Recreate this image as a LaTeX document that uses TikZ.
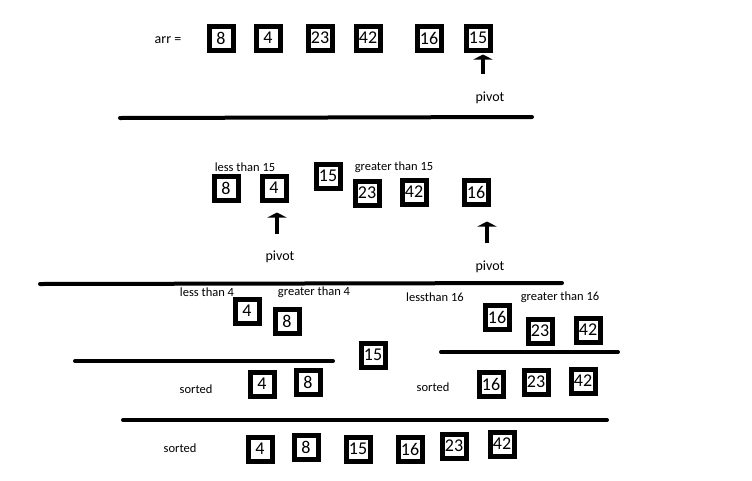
\documentclass[tikz,border=0pt]{standalone}
\usepackage{fontspec}
\setmainfont{Carlito}
\usetikzlibrary{arrows.meta,positioning}
\begin{document}
\begin{tikzpicture}[x=1pt, y=-1pt,
      num/.style={draw, line width=5pt, minimum size=24pt, inner sep=0pt, font=\fontsize{18}{18}\selectfont},
      lbl/.style={font=\fontsize{12.5}{12.5}\selectfont},
      cut/.style={line width=4pt, line cap=round},
      piv/.style={line width=4pt, -{Triangle[width=19pt,length=5pt]}}]
    \useasboundingbox (0,0) rectangle (752,480);
    % step 1: whole array, last element as pivot
    \node[font=\fontsize{14}{14}\selectfont] (arr) at (168,40) {arr =};
    \node[num] (a8) at (221,38) {8};
    \node[num] (a4) at (268,38) {4};
    \node[num] (a23) at (320,38) {23};
    \node[num] (a42) at (368,38) {42};
    \node[num] (a16) at (429,38) {16};
    \node[num] (a15) at (478,38) {15};
    \coordinate (t1) at (483,74);
    \draw[piv, shorten >=2pt] (t1) -- (t1 |- a15.south);
    \node[font=\fontsize{14}{14}\selectfont] (p1) at (490,98) {pivot};
    \draw[cut] (120,118) -- (532,117);
    % step 2: split round 15
    \node[lbl] (lt15) at (245,167) {less than 15};
    \node[lbl] (gt15) at (394,167) {greater than 15};
    \node[num] (b8) at (226,188) {8};
    \node[num] (b4) at (274,188) {4};
    \node[num] (b15) at (328,176) {15};
    \node[num] (b23) at (367,193) {23};
    \node[num] (b42) at (414,192) {42};
    \node[num] (b16) at (476,192) {16};
    \coordinate (t2) at (277,234);
    \draw[piv, shorten >=10pt] (t2) -- (t2 |- b4.south);
    \node[font=\fontsize{14}{14}\selectfont] (p2) at (280,257) {pivot};
    \coordinate (t3) at (487,243);
    \draw[piv, shorten >=15pt] (t3) -- (t3 |- b16.south);
    \node[font=\fontsize{14}{14}\selectfont] (p3) at (490,267) {pivot};
    \draw[cut] (40,284) -- (562,283);
    % step 3: split round 4 and 16
    \node[lbl] (lt4) at (207,292) {less than 4};
    \node[lbl] (gt4) at (314,292) {greater than 4};
    \node[num] (c4) at (247,311) {4};
    \node[num] (c8) at (287,321) {8};
    \node[lbl] (lt16) at (435,297) {lessthan 16};
    \node[lbl] (gt16) at (560,297) {greater than 16};
    \node[num] (c16) at (497,317) {16};
    \node[num] (c23) at (540,331) {23};
    \node[num] (c42) at (588,330) {42};
    \node[num] (c15) at (373,355) {15};
    \draw[cut] (75,361) -- (333,361);
    \draw[cut] (441,352) -- (618,352);
    % step 4: sorted parts
    \node[lbl] (s1) at (196,389) {sorted};
    \node[num] (d4) at (262,384) {4};
    \node[num] (d8) at (308,382) {8};
    \node[lbl] (s2) at (433,387) {sorted};
    \node[num] (d16) at (491,384) {16};
    \node[num] (d23) at (536,382) {23};
    \node[num] (d42) at (583,381) {42};
    \draw[cut] (123,420) -- (607,420);
    % step 5: result
    \node[lbl] (s3) at (180,448) {sorted};
    \node[num] (e4) at (260,449) {4};
    \node[num] (e8) at (306,447) {8};
    \node[num] (e15) at (358,449) {15};
    \node[num] (e16) at (410,449) {16};
    \node[num] (e23) at (454,446) {23};
    \node[num] (e42) at (502,444) {42};
  \end{tikzpicture}
\end{document}
